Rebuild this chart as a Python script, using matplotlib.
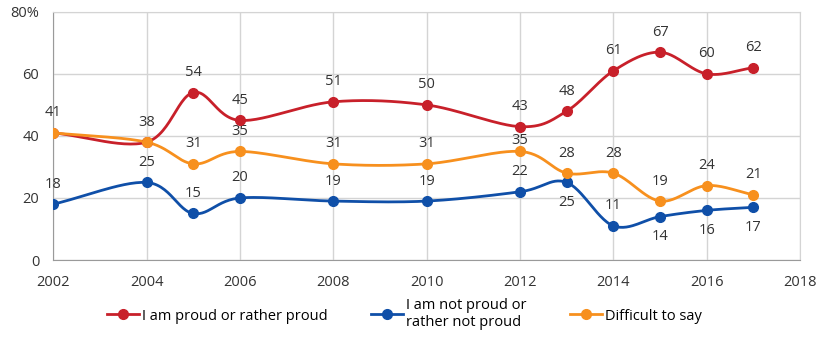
import matplotlib.pyplot as plt
import numpy as np

plt.rcParams['font.family'] = ['Open Sans', 'DejaVu Sans']

years = [2002, 2004, 2005, 2006, 2008, 2010, 2012, 2013, 2014, 2015, 2016, 2017]
proud = [41, 38, 54, 45, 51, 50, 43, 48, 61, 67, 60, 62]
not_proud = [18, 25, 15, 20, 19, 19, 22, 25, 11, 14, 16, 17]
difficult = [41, 38, 31, 35, 31, 31, 35, 28, 28, 19, 24, 21]

# label placement: positive above the marker, negative below, 0 skipped
proud_pos = [1] * 12
not_proud_pos = [1, 1, 1, 1, 1, 1, 1, -1, 1, -1, -1, -1]
difficult_pos = [0, 0, 1, 1, 1, 1, 0.3, 1, 1, 1, 1, 1]


def smooth(x, y, n=30):
    # Catmull-Rom style smoothing between the data points
    x = np.asarray(x, float)
    y = np.asarray(y, float)
    px = np.concatenate([[2 * x[0] - x[1]], x, [2 * x[-1] - x[-2]]])
    py = np.concatenate([[2 * y[0] - y[1]], y, [2 * y[-1] - y[-2]]])
    xs, ys = [], []
    for i in range(1, len(px) - 2):
        t = np.linspace(0, 1, n)
        for p, out in ((px, xs), (py, ys)):
            p0, p1, p2, p3 = p[i - 1], p[i], p[i + 1], p[i + 2]
            m1 = (p2 - p0) / 2
            m2 = (p3 - p1) / 2
            h00 = 2 * t**3 - 3 * t**2 + 1
            h10 = t**3 - 2 * t**2 + t
            h01 = -2 * t**3 + 3 * t**2
            h11 = t**3 - t**2
            out.extend(h00 * p1 + h10 * m1 + h01 * p2 + h11 * m2)
    return xs, ys


fig = plt.figure(figsize=(8.19, 3.39), dpi=100)
ax = fig.add_axes([0.065, 0.233, 0.912, 0.732])

series = [
    (proud, proud_pos, '#c8202a', 'I am proud or rather proud'),
    (not_proud, not_proud_pos, '#0f4fa8', 'I am not proud or\nrather not proud'),
    (difficult, difficult_pos, '#f7901e', 'Difficult to say'),
]
for vals, pos, col, lab in series:
    sx, sy = smooth(years, vals)
    ax.plot(sx, sy, color=col, lw=2, zorder=3)
    ax.plot(years, vals, 'o', color=col, ms=7, zorder=4)
    ax.plot([], [], '-o', color=col, lw=2, ms=7, label=lab)
    for x, v, p in zip(years, vals, pos):
        if p == 0:
            continue
        ax.annotate(str(v), (x, v), xytext=(0, 9 * p), textcoords='offset points',
                    ha='center', va='bottom' if p > 0 else 'top',
                    fontsize=10.5, color='#333333')

ax.set_xlim(2002, 2018)
ax.set_ylim(0, 80)
ax.set_xticks(range(2002, 2019, 2))
ax.set_yticks([0, 20, 40, 60, 80])
ax.set_yticklabels(['0', '20', '40', '60', '80%'])
ax.tick_params(axis='x', length=0, labelsize=10.5, colors='#333333', pad=11)
ax.tick_params(axis='y', length=0, labelsize=10.5, colors='#333333', pad=10)
ax.grid(color='#d4d4d4', lw=1)
ax.set_axisbelow(True)
for s in ['top', 'right']:
    ax.spines[s].set_color('#d4d4d4')
for s in ['left', 'bottom']:
    ax.spines[s].set_color('#9a9a9a')

ax.legend(loc='upper center', bbox_to_anchor=(0.47, -0.1),
          ncol=3, frameon=False, fontsize=10.5, handlelength=2.2, columnspacing=3,
          handletextpad=0.2, labelspacing=0.2)

fig.savefig('out.png', dpi=100)
